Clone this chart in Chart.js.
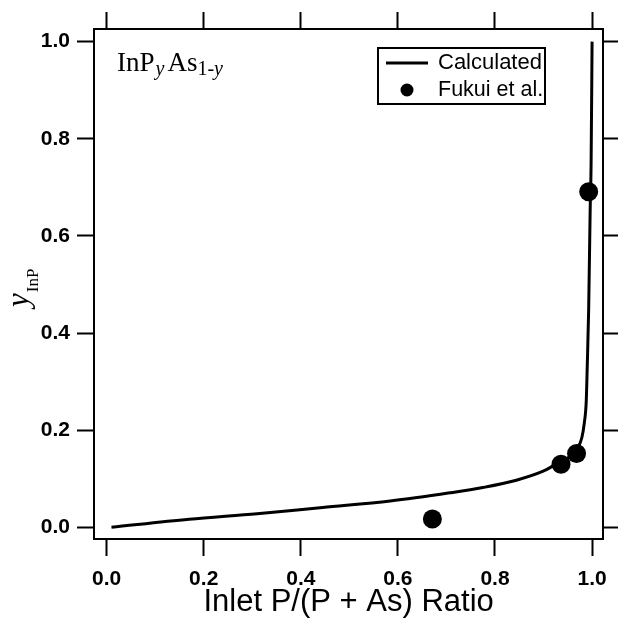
<!DOCTYPE html>
<html>
<head>
<meta charset="utf-8">
<script src="https://cdn.jsdelivr.net/npm/chart.js@4/dist/chart.umd.min.js"></script>
<style>
  html, body { margin: 0; padding: 0; background: #fff; }
  #wrap { width: 618px; height: 618px; }
</style>
</head>
<body>
<div id="wrap"><canvas id="ratioChart" width="618" height="618"></canvas></div>
<script>
// Calculated curve: y(InP) against inlet P/(P + As) ratio
const calcRatio = [0.01, 0.17, 0.31, 0.445, 0.584, 0.707, 0.775, 0.844, 0.898, 0.919,
                   0.953, 0.970, 0.979, 0.984, 0.988, 0.990, 0.993, 0.996, 0.998, 1.0];
const calcYInP = [0.000, 0.0165, 0.028, 0.041, 0.054, 0.071, 0.082, 0.097, 0.115, 0.126,
                  0.145, 0.163, 0.185, 0.215, 0.26, 0.33, 0.45, 0.65, 0.75, 1.0];

// Fukui et al. measurements
const fukuiRatio = [0.671, 0.936, 0.968, 0.993];
const fukuiYInP = [0.017, 0.130, 0.152, 0.691];

// Axis ticks (same on both axes)
const tickValues = [0, 0.2, 0.4, 0.6, 0.8, 1.0];
const tickLabels = ['0.0', '0.2', '0.4', '0.6', '0.8', '1.0'];

const seriesNames = ['Calculated', 'Fukui et al.'];

const SANS = '"Liberation Sans", Arial, Helvetica, sans-serif';
const SERIF = '"Liberation Serif", "Times New Roman", serif';

const tickFont = { family: SANS, size: 21, weight: 'bold' };

function axis(position, opts) {
    const showLabels = position === 'bottom' || position === 'left';
    return Object.assign({
        type: 'linear',
        position: position,
        afterBuildTicks: s => { s.ticks = tickValues.map(v => ({ value: v })); },
        border: { display: true, color: '#000', width: 2 },
        grid: {
            drawOnChartArea: false,
            drawTicks: true,
            tickLength: 17,
            tickWidth: 2,
            tickColor: '#000',
            color: '#000'
        },
        ticks: {
            display: showLabels,
            color: '#000',
            font: tickFont,
            callback: (v, i) => tickLabels[i]
        }
    }, opts);
}

// text drawn on the canvas that Chart.js has no option for (sub/superscripts, boxed legend)
const extraText = {
    id: 'extraText',
    afterDraw(chart) {
        const ctx = chart.ctx;
        const area = chart.chartArea;
        ctx.save();
        ctx.fillStyle = '#000';
        ctx.strokeStyle = '#000';
        ctx.textBaseline = 'alphabetic';

        // InP_y As_1-y label, top left
        let x = area.left + 23;
        const base = area.top + 42;
        const runs = [
            { t: 'InP', f: '27px ' + SERIF, dy: 0, gap: 1 },
            { t: 'y', f: 'italic 20px ' + SERIF, dy: 4, gap: 3 },
            { t: 'As', f: '27px ' + SERIF, dy: 0, gap: 0 },
            { t: '1-', f: '20px ' + SERIF, dy: 4, gap: 0 },
            { t: 'y', f: 'italic 20px ' + SERIF, dy: 4, gap: 0 }
        ];
        runs.forEach(r => {
            ctx.font = r.f;
            ctx.fillText(r.t, x, base + r.dy);
            x += ctx.measureText(r.t).width + r.gap;
        });

        // legend box
        const lx = area.left + 284, ly = area.top + 19;
        ctx.lineWidth = 2;
        ctx.strokeRect(lx, ly, 167, 56);
        const line = chart.data.datasets[1];
        ctx.lineWidth = line.borderWidth;
        ctx.beginPath();
        ctx.moveTo(lx + 8, ly + 15);
        ctx.lineTo(lx + 50, ly + 15);
        ctx.stroke();
        ctx.beginPath();
        ctx.arc(lx + 29, ly + 42, 6.5, 0, Math.PI * 2);
        ctx.fill();
        ctx.font = '22px ' + SANS;
        ctx.textBaseline = 'middle';
        ctx.fillText(seriesNames[0], lx + 60, ly + 15);
        ctx.font = '21.5px ' + SANS;
        ctx.fillText(seriesNames[1], lx + 60, ly + 42);

        // rotated y-axis title: y subscript InP
        ctx.textBaseline = 'alphabetic';
        ctx.translate(28, (area.top + area.bottom) / 2 + 23);
        ctx.rotate(-Math.PI / 2);
        ctx.font = 'italic 31px ' + SERIF;
        ctx.fillText('y', 0, 0);
        const w = ctx.measureText('y').width;
        ctx.font = '17px ' + SERIF;
        ctx.fillText('InP', w + 1, 10);
        ctx.restore();
    }
};

const ctx = document.getElementById('ratioChart').getContext('2d');
new Chart(ctx, {
    type: 'scatter',
    data: {
        datasets: [
            {
                label: seriesNames[1],
                data: fukuiRatio.map((r, i) => ({ x: r, y: fukuiYInP[i] })),
                backgroundColor: '#000',
                borderWidth: 0,
                pointRadius: 9.5,
                pointHoverRadius: 9.5,
                order: 0
            },
            {
                label: seriesNames[0],
                data: calcRatio.map((r, i) => ({ x: r, y: calcYInP[i] })),
                showLine: true,
                borderColor: '#000',
                borderWidth: 3,
                pointRadius: 0,
                cubicInterpolationMode: 'monotone',
                order: 1
            }
        ]
    },
    options: {
        responsive: false,
        animation: false,
        devicePixelRatio: 1,
        layout: { padding: 0 },
        plugins: {
            legend: { display: false },
            tooltip: { enabled: false }
        },
        scales: {
            x: axis('bottom', {
                min: -0.026, max: 1.023,
                afterFit: s => { s.height = 79; },
                ticks: {
                    color: '#000', padding: 11,
                    font: tickFont,
                    callback: (v, i) => tickLabels[i]
                },
                title: {
                    display: true,
                    text: 'Inlet P/(P + As) Ratio',
                    color: '#000',
                    font: { family: SANS, size: 31, lineHeight: 1.0 },
                    padding: { top: 0, bottom: 0 }
                }
            }),
            x2: axis('top', {
                min: -0.026, max: 1.023,
                afterFit: s => { s.height = 29; }
            }),
            y: axis('left', {
                min: -0.024, max: 1.026,
                afterFit: s => { s.width = 94; },
                ticks: {
                    color: '#000', padding: 7,
                    font: tickFont,
                    callback: (v, i) => tickLabels[i]
                }
            }),
            y2: axis('right', {
                min: -0.024, max: 1.026,
                afterFit: s => { s.width = 14; }
            })
        }
    },
    plugins: [extraText]
});
</script>
</body>
</html>
